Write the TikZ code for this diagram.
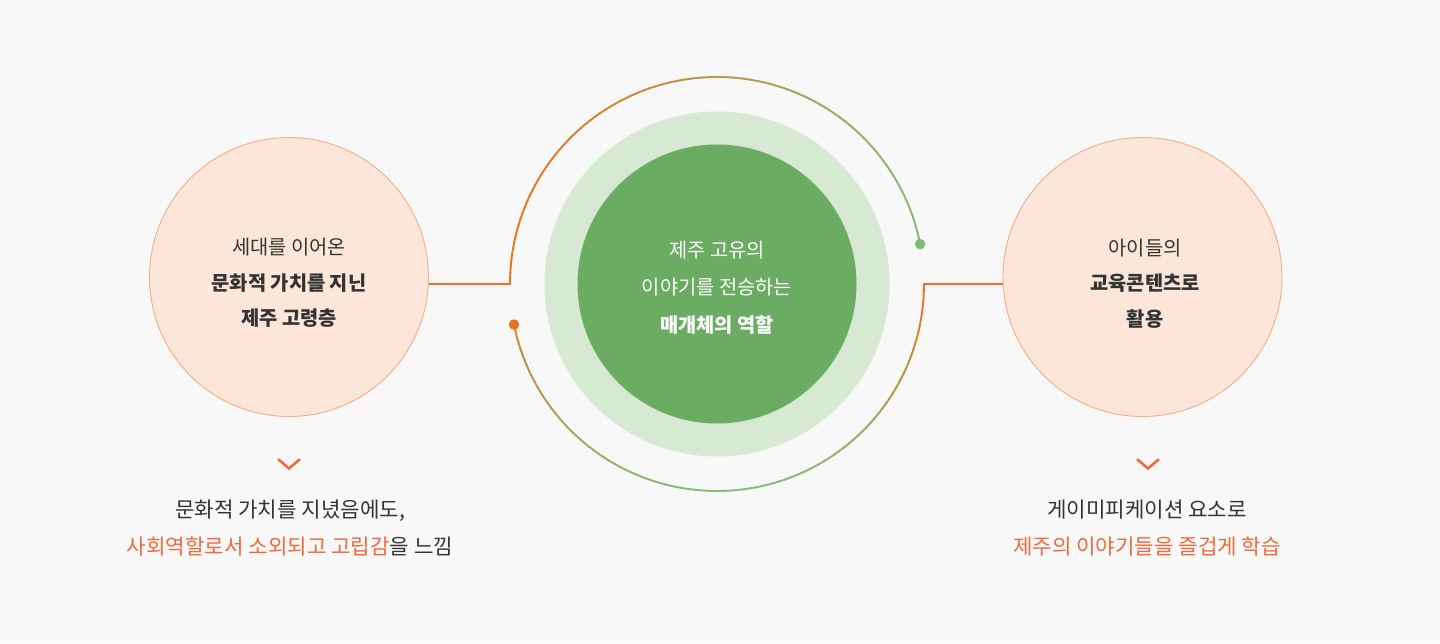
\documentclass[tikz,border=0pt]{standalone}
\usepackage{fontspec}
\setmainfont{Noto Sans CJK KR}
\definecolor{bgc}{HTML}{F8F8F8}
\definecolor{pfill}{HTML}{FCE6DA}
\definecolor{pborder}{HTML}{F5AC84}
\definecolor{ringc}{HTML}{D7E8D3}
\definecolor{corec}{HTML}{6AAD62}
\definecolor{lorange}{HTML}{E8761F}
\definecolor{lgreen}{HTML}{88BB7A}
\definecolor{conc}{HTML}{EE7424}
\definecolor{tdark}{HTML}{333333}
\definecolor{torange}{HTML}{F26A3B}
\definecolor{dotg}{HTML}{7DBB72}
\definecolor{doto}{HTML}{E8721C}
\begin{document}
\begin{tikzpicture}[x=1pt,y=1pt,
  bigc/.style={circle, draw=pborder, fill=pfill, line width=0.9pt, minimum size=279pt, inner sep=0pt},
  ctext/.style={align=center, text=tdark, inner sep=0pt, font=\fontsize{19.8}{35.5}\selectfont},
  ringnode/.style={circle, fill=ringc, minimum size=345pt, inner sep=0pt},
  corenode/.style={circle, fill=corec, minimum size=279pt, inner sep=0pt},
  coretext/.style={align=center, text=white, inner sep=0pt, font=\fontsize{19.8}{37.5}\selectfont},
  conn/.style={conc, line width=2pt},
  chev/.style={torange, line width=2.6pt, line cap=round, line join=miter},
  btxt/.style={align=center, text=tdark, inner sep=0pt, font=\fontsize{21.2}{37}\selectfont},
  dotnode/.style={circle, inner sep=0pt, minimum size=10.5pt}]
\fill[bgc] (0,0) rectangle (1440,643);
\useasboundingbox (0,0) rectangle (1440,643);
\coordinate (O) at (717,359);
\node[ringnode] (ring) at (O) {};
\node[corenode] (C) at (O) {};
\node[coretext] (Ctx) at (717,355.5) {제주 고유의\\이야기를 전승하는\\\textbf{매개체의 역할}};
\node[bigc] (L) at (289,366) {};
\node[ctext] (Ltx) at (289,360) {세대를 이어온\\\textbf{문화적 가치를 지닌}\\\textbf{제주 고령층}};
\node[bigc] (R) at (1142.5,366) {};
\node[ctext] (Rtx) at (1145,359.5) {아이들의\\\textbf{교육콘텐츠로}\\\textbf{활용}};
% upper gradient arc
\foreach \i in {0,...,99}{
  \pgfmathsetmacro\aa{11.1+\i*1.689}
  \pgfmathsetmacro\ab{\aa+1.95}
  \pgfmathsetmacro\am{\aa+0.845}
  \pgfmathsetmacro\t{50*(1+cos(\am))}
  \colorlet{segc}{lgreen!\t!lorange}
  \draw[segc, line width=1.9pt] (O) ++(\aa:207pt) arc[start angle=\aa, end angle=\ab, radius=207pt];
}
% lower gradient arc
\foreach \i in {0,...,99}{
  \pgfmathsetmacro\aa{191.3+\i*1.687}
  \pgfmathsetmacro\ab{\aa+1.95}
  \pgfmathsetmacro\am{\aa+0.84}
  \pgfmathsetmacro\t{100*(-sin(\am))}
  \colorlet{segc}{lgreen!\t!lorange}
  \draw[segc, line width=1.9pt] (O) ++(\aa:207pt) arc[start angle=\aa, end angle=\ab, radius=207pt];
}
\path (O) ++(180:207pt) coordinate (aL);
\path (O) ++(0:207pt) coordinate (aR);
\path (O) ++(11.1:207pt) coordinate (gd);
\path (O) ++(191.3:207pt) coordinate (od);
\node[dotnode, fill=dotg] (gdot) at (gd) {};
\node[dotnode, fill=doto] (odot) at (od) {};
\draw[conn] (L.east |- aL) -- (aL);
\draw[conn] (aR) -- (aR -| R.west);
% chevrons
\coordinate (Lch) at (289,179);
\coordinate (Rch) at (1148,179);
\draw[chev] (Lch) ++(-10.5,4.5) -- ++(10.5,-9) -- ++(10.5,9);
\draw[chev] (Rch) ++(-10.5,4.5) -- ++(10.5,-9) -- ++(10.5,9);
% bottom texts
\node[btxt] (Lt) at (290,114.5) {문화적 가치를 지녔음에도,\\\textcolor{torange}{사회역할로서 소외되고 고립감}을 느낌};
\node[btxt] (Rt) at (1147,114.5) {게이미피케이션 요소로\\\textcolor{torange}{제주의 이야기들을 즐겁게 학습}};
\end{tikzpicture}
\end{document}
